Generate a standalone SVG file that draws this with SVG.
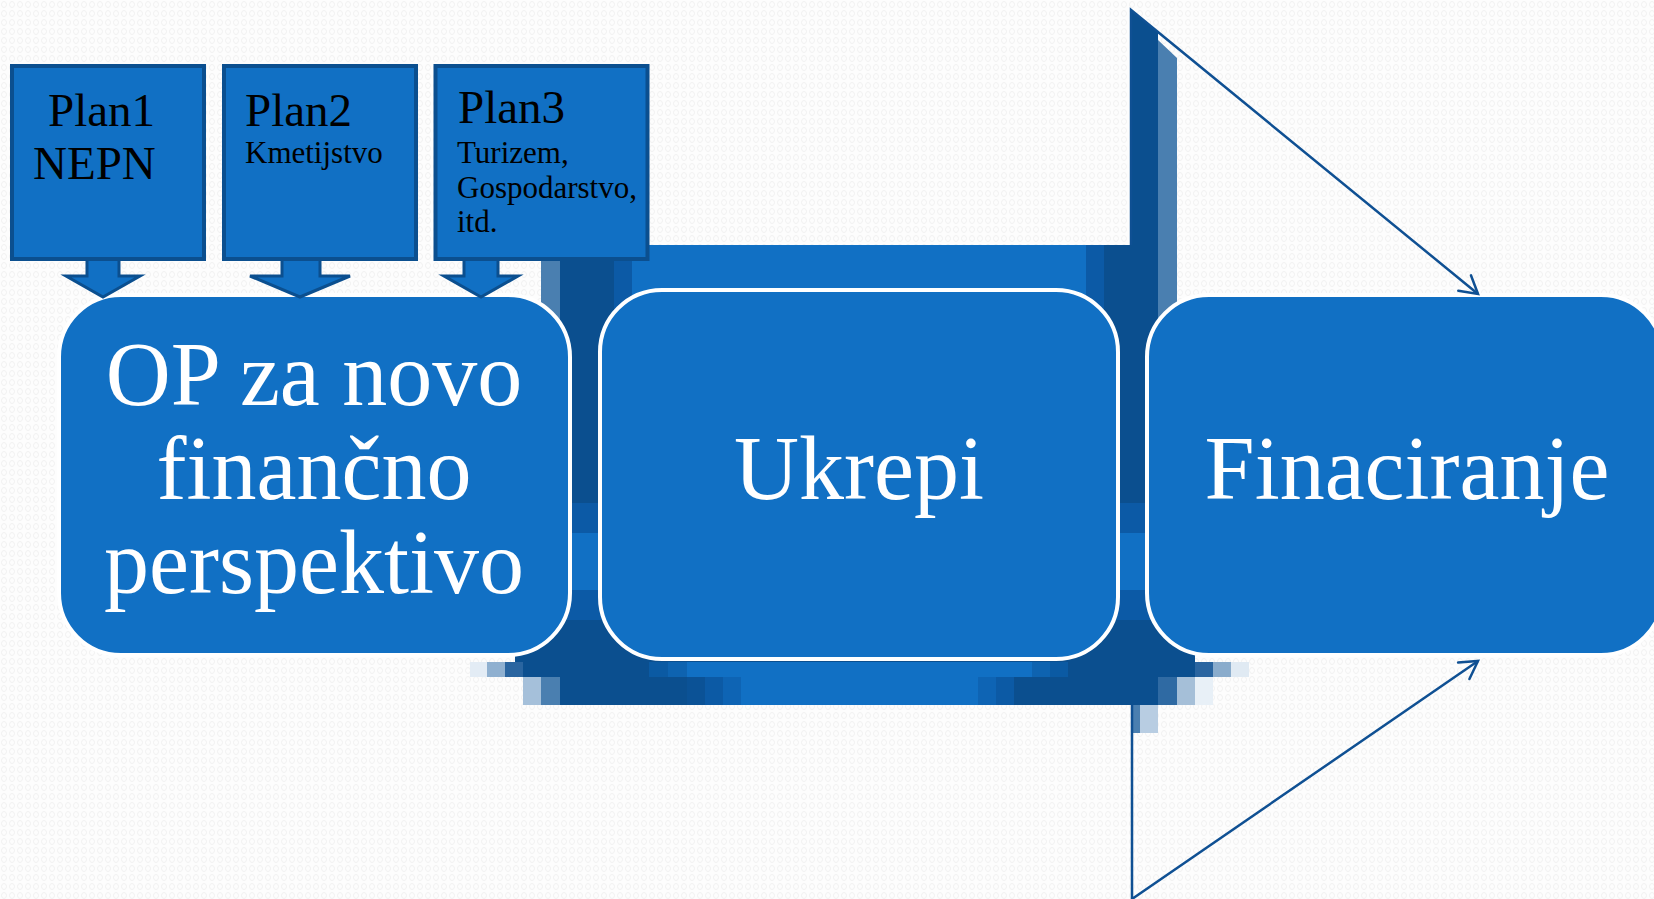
<svg xmlns="http://www.w3.org/2000/svg" width="1654" height="899" viewBox="0 0 1654 899">
<defs>
<pattern id="bg" width="8" height="9" patternUnits="userSpaceOnUse">
<rect width="8" height="9" fill="#fdfdfd"/>
<ellipse cx="4" cy="4.5" rx="2.5" ry="3" fill="none" stroke="#eeeeee" stroke-width="0.8"/>
</pattern>
<marker id="open" markerUnits="userSpaceOnUse" markerWidth="26" markerHeight="26" refX="20" refY="12" orient="auto" viewBox="0 0 26 26">
<path d="M2.7,2 L20,12 L2.7,22" fill="none" stroke="#0f5093" stroke-width="2.5" stroke-linecap="round" stroke-linejoin="miter"/>
</marker>
<style>
.main{fill:#1170c4;stroke:#fff;stroke-width:4}
.plan{fill:#1170c4;stroke:#0b4f8f;stroke-width:4}
.blk{fill:#1170c4;stroke:#0b4f8f;stroke-width:3}
.conn{fill:none;stroke:#0f5093;stroke-width:2.5}
.big{font-family:"Liberation Serif","Times New Roman",serif;font-size:90px;fill:#fff;text-anchor:middle}
.pt{font-family:"Liberation Serif","Times New Roman",serif;fill:#000}
.dk{fill:#0b4f8f}.md{fill:#0c5aa6}.bl{fill:#1170c4}.st{fill:#4a7fb0}
</style>
</defs>
<rect width="1654" height="899" fill="url(#bg)"/>

<g id="band">
<polygon points="1158,40 1177,58 1177,340 1158,340" class="st"/>
<polygon points="1131,10 1158,32 1158,250 1131,250" class="dk"/>
<line x1="1129.5" y1="12" x2="1129.5" y2="244" stroke="#ffffff" stroke-width="1"/>
<rect x="541" y="245" width="617" height="432" class="dk"/>
<rect x="515" y="600" width="50" height="62" class="dk"/>
<rect x="1150" y="600" width="45" height="62" class="dk"/>
<rect x="541" y="245" width="19" height="320" class="st"/>
<rect x="614" y="245" width="18" height="100" class="md"/>
<rect x="632" y="245" width="454" height="100" class="bl"/>
<rect x="1086" y="245" width="18" height="100" class="md"/>
<rect x="560" y="503" width="50" height="30" class="md"/>
<rect x="560" y="533" width="50" height="57" class="bl"/>
<rect x="560" y="590" width="50" height="30" class="md"/>
<rect x="1105" y="503" width="50" height="30" class="md"/>
<rect x="1105" y="533" width="50" height="57" class="bl"/>
<rect x="1105" y="590" width="50" height="30" class="md"/>
<!-- row A -->
<rect x="470" y="662" width="17" height="15" fill="#e3ecf5"/>
<rect x="487" y="662" width="18" height="15" fill="#8fb0d0"/>
<rect x="505" y="662" width="18" height="15" fill="#2a65a0"/>
<rect x="523" y="662" width="18" height="15" class="dk"/>
<rect x="649" y="662" width="19" height="15" fill="#0b5aa3"/>
<rect x="668" y="662" width="19" height="15" fill="#0e63b0"/>
<rect x="687" y="662" width="345" height="15" class="bl"/>
<rect x="1032" y="662" width="18" height="15" fill="#0e63b0"/>
<rect x="1050" y="662" width="18" height="15" fill="#0b5aa3"/>
<rect x="1158" y="662" width="37" height="15" class="dk"/>
<rect x="1195" y="662" width="18" height="15" fill="#2a65a0"/>
<rect x="1213" y="662" width="18" height="15" fill="#8aaccc"/>
<rect x="1231" y="662" width="18" height="15" fill="#e0eaf3"/>
<!-- row B -->
<rect x="523" y="677" width="18" height="28" fill="#a5c0da"/>
<rect x="541" y="677" width="19" height="28" class="st"/>
<rect x="560" y="677" width="127" height="28" class="dk"/>
<rect x="687" y="677" width="18" height="28" fill="#0b5296"/>
<rect x="705" y="677" width="18" height="28" fill="#0c5aa5"/>
<rect x="723" y="677" width="18" height="28" fill="#0e64b4"/>
<rect x="741" y="677" width="237" height="28" class="bl"/>
<rect x="978" y="677" width="18" height="28" fill="#0e64b4"/>
<rect x="996" y="677" width="18" height="28" fill="#0c5aa5"/>
<rect x="1014" y="677" width="144" height="28" class="dk"/>
<rect x="1158" y="677" width="19" height="28" fill="#2f6aa3"/>
<rect x="1177" y="677" width="18" height="28" fill="#a5bfd8"/>
<rect x="1195" y="677" width="18" height="28" fill="#e8f0f7"/>
<!-- row C -->
<rect x="1132" y="705" width="8" height="28" class="st"/>
<rect x="1140" y="705" width="18" height="28" fill="#b8cde2"/>
</g>

<g id="op">
<rect x="59" y="295" width="511" height="360" rx="62" ry="62" class="main"/>
<text class="big"><tspan x="314" y="405">OP za novo</tspan><tspan x="314" y="499">finančno</tspan><tspan x="314" y="593">perspektivo</tspan></text>
</g>
<g id="ukrepi">
<rect x="600" y="290" width="518" height="369" rx="62" ry="62" class="main"/>
<text class="big" x="859" y="499">Ukrepi</text>
</g>
<g id="financiranje">
<rect x="1147" y="295" width="516" height="360" rx="62" ry="62" class="main"/>
<text class="big" x="1407" y="499">Finaciranje</text>
</g>

<g id="connectors">
<polygon class="blk" points="87,259 119,259 119,276 140,276 103,297 66,276 87,276"/>
<polygon class="blk" points="282,259 320,259 320,276 350,276 300,297 250,276 282,276"/>
<polygon class="blk" points="464,259 498,259 498,276 518,276 481,297 444,276 464,276"/>
<path class="conn" d="M1131,245 L1131,10 L1478,294" marker-end="url(#open)"/>
<path class="conn" d="M1132,705 L1132,899 L1478,661" marker-end="url(#open)"/>
</g>

<g id="plan1">
<rect x="12" y="66" width="192" height="193" class="plan"/>
<text class="pt" font-size="47"><tspan x="48" y="126">Plan1</tspan><tspan x="33" y="179">NEPN</tspan></text>
</g>
<g id="plan2">
<rect x="224" y="66" width="192" height="193" class="plan"/>
<text class="pt" x="245" y="126" font-size="47">Plan2</text>
<text class="pt" x="245" y="163" font-size="31">Kmetijstvo</text>
</g>
<g id="plan3">
<rect x="435.5" y="66" width="212" height="193" class="plan"/>
<text class="pt"><tspan x="458" y="123" font-size="47">Plan3</tspan><tspan x="457" y="163" font-size="31">Turizem,</tspan><tspan x="457" y="198" font-size="31">Gospodarstvo,</tspan><tspan x="457" y="232" font-size="31">itd.</tspan></text>
</g>
</svg>
